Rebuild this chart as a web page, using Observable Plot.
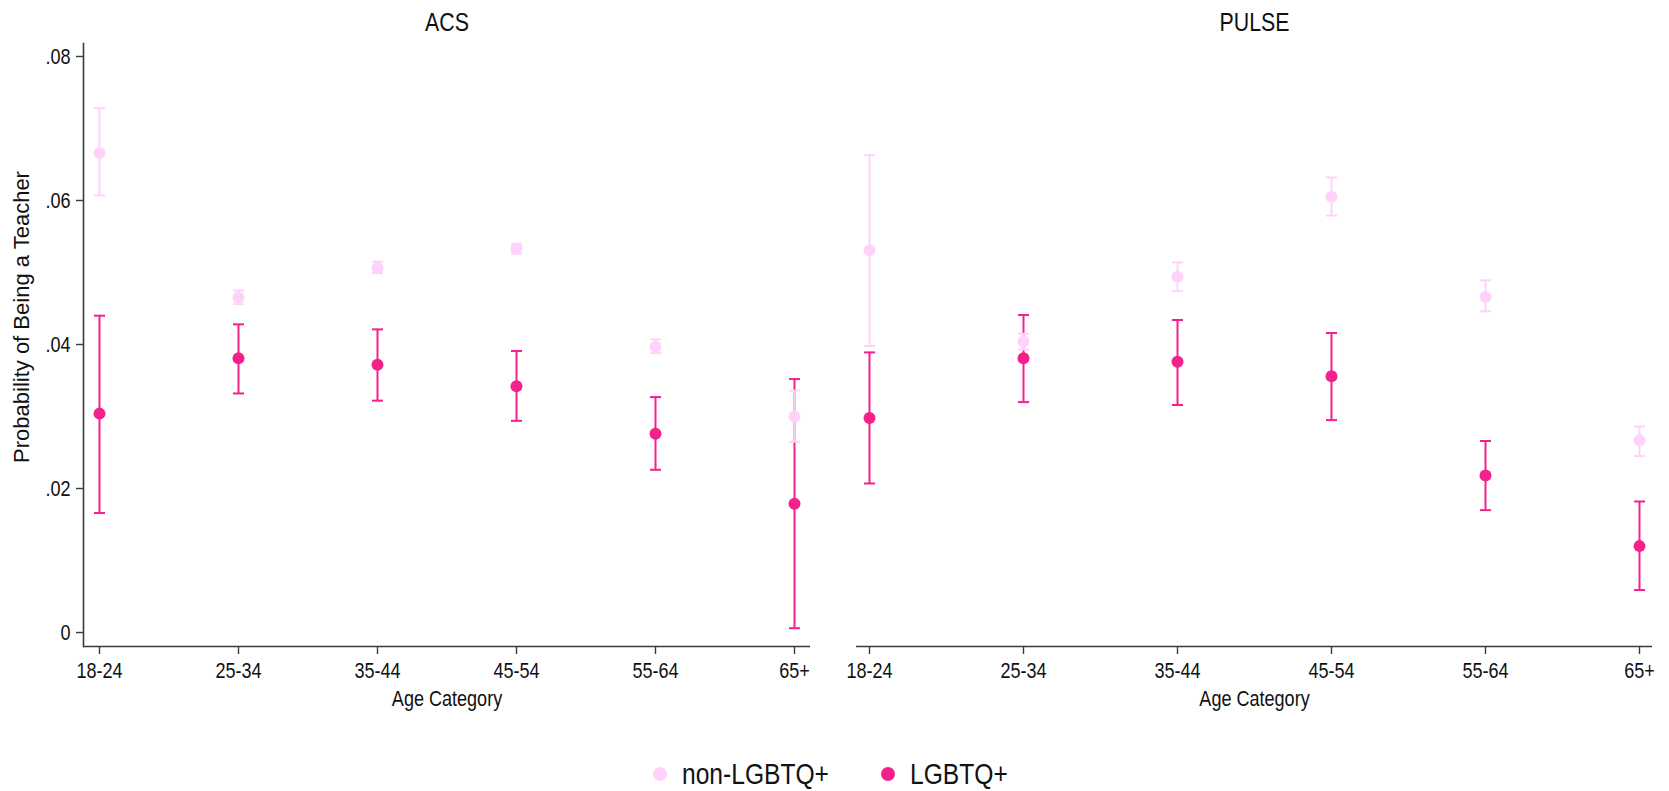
<!DOCTYPE html>
<html>
<head>
<meta charset="utf-8">
<script src="https://cdn.jsdelivr.net/npm/d3@7"></script>
<script src="https://cdn.jsdelivr.net/npm/@observablehq/plot@0.6"></script>
<style>
  html, body { margin: 0; padding: 0; background: #fff; }
  #root { position: relative; width: 1669px; height: 791px; overflow: hidden; font-family: "Liberation Sans", Arial, sans-serif; }
  .panel { position: absolute; top: 0; }
  #legend { position: absolute; top: 754px; left: 0; width: 1669px; height: 40px; }
  .lg-item { position: absolute; top: 0; height: 40px; display: flex; align-items: center; font-size: 30px; color: #111; white-space: nowrap; }
  .lg-dot { width: 14px; height: 14px; border-radius: 50%; margin-right: 15px; flex: none; }
  .lg-txt { display: inline-block; transform: scaleX(0.82); transform-origin: left center; }
  #ytitle { position: absolute; left: 22px; top: 317px; font-size: 22px; color: #111; white-space: nowrap;
            transform: translate(-50%, -50%) rotate(-90deg); }
</style>
</head>
<body>
<div id="root">
  <div id="left" class="panel" style="left:0px"></div>
  <div id="right" class="panel" style="left:840px"></div>
  <div id="ytitle"></div>
  <div id="legend"></div>
</div>
<script>
// ---- data ----
const ages = ["18-24", "25-34", "35-44", "45-54", "55-64", "65+"];
const groups = ["non-LGBTQ+", "LGBTQ+"];
const panels = ["ACS", "PULSE"];
const yTitle = "Probability of Being a Teacher";
const xTitle = "Age Category";
const yTicks = [0, 0.02, 0.04, 0.06, 0.08];

const acsNonEst = [0.0666, 0.0465, 0.0506, 0.0533, 0.0397, 0.0300];
const acsNonLo  = [0.0607, 0.0456, 0.0499, 0.0526, 0.0388, 0.0265];
const acsNonHi  = [0.0728, 0.0475, 0.0515, 0.0540, 0.0407, 0.0336];
const acsLgbEst = [0.0304, 0.0381, 0.0372, 0.0342, 0.0276, 0.0179];
const acsLgbLo  = [0.0166, 0.0332, 0.0322, 0.0294, 0.0226, 0.0006];
const acsLgbHi  = [0.0440, 0.0428, 0.0421, 0.0391, 0.0327, 0.0352];

const pulseNonEst = [0.0531, 0.0404, 0.0494, 0.0605, 0.0466, 0.0267];
const pulseNonLo  = [0.0398, 0.0393, 0.0474, 0.0579, 0.0446, 0.0245];
const pulseNonHi  = [0.0663, 0.0415, 0.0514, 0.0632, 0.0489, 0.0286];
const pulseLgbEst = [0.0298, 0.0381, 0.0376, 0.0356, 0.0218, 0.0120];
const pulseLgbLo  = [0.0207, 0.0320, 0.0316, 0.0295, 0.0170, 0.0059];
const pulseLgbHi  = [0.0389, 0.0441, 0.0434, 0.0416, 0.0266, 0.0182];

const colors = ["#ffd3f9", "#f2218c"];

function rows(est, lo, hi, group) {
  return ages.map((a, i) => ({age: a, est: est[i], lo: lo[i], hi: hi[i], group}));
}
const acsData = [...rows(acsLgbEst, acsLgbLo, acsLgbHi, groups[1]), ...rows(acsNonEst, acsNonLo, acsNonHi, groups[0])];
const pulseData = [...rows(pulseLgbEst, pulseLgbLo, pulseLgbHi, groups[1]), ...rows(pulseNonEst, pulseNonLo, pulseNonHi, groups[0])];

const FONT = getComputedStyle(document.getElementById("root")).fontFamily;
const AXIS = "#3a3a3a";
const yDomain = [-0.00194, 0.0818];
const H = 720, MT = 43, MB = 74;
const SQUEEZE = 0.82;

// horizontal cap symbol for error bars
const capSymbol = {
  draw(ctx, size) {
    const r = Math.sqrt(size / Math.PI);
    ctx.moveTo(-r, 0);
    ctx.lineTo(r, 0);
  }
};

function panel(data, title, opts) {
  const marks = [];
  for (const g of [groups[1], groups[0]]) {
    const d = data.filter(r => r.group === g);
    marks.push(
      Plot.ruleX(d, {x: "age", y1: "lo", y2: "hi", stroke: "group", strokeWidth: 2}),
      Plot.dot(d, {x: "age", y: "lo", stroke: "group", fill: "none", strokeWidth: 2, symbol: capSymbol, r: 5.5}),
      Plot.dot(d, {x: "age", y: "hi", stroke: "group", fill: "none", strokeWidth: 2, symbol: capSymbol, r: 5.5}),
      Plot.dot(d, {x: "age", y: "est", fill: "group", r: 6})
    );
  }
  const axes = [
    Plot.ruleY([yDomain[0]], {stroke: AXIS, strokeWidth: 1.6}),
    Plot.axisX({tickSize: 8, tickPadding: 8, fontSize: 22, label: null, stroke: AXIS, strokeWidth: 1.4}),
    Plot.text([xTitle], {frameAnchor: "bottom", lineAnchor: "middle", dy: 52, fontSize: 22, fill: "#111"}),
    Plot.text([title], {frameAnchor: "top", lineAnchor: "middle", dy: -21, fontSize: 26, fill: "#111"})
  ];
  if (opts.yAxis) {
    axes.push(
      Plot.frame({anchor: "left", stroke: AXIS, strokeWidth: 1.6}),
      Plot.axisY({ticks: yTicks, tickSize: 7, tickPadding: 6, fontSize: 22, label: null, stroke: AXIS, strokeWidth: 1.4,
        tickFormat: d => d === 0 ? "0" : d3.format(".2f")(d).replace(/^0/, "")})
    );
  } else {
    axes.push(Plot.axisY({ticks: [], label: null}));
  }
  return Plot.plot({
    width: opts.width, height: H,
    marginLeft: opts.ml, marginRight: opts.mr, marginTop: MT, marginBottom: MB,
    style: {fontFamily: FONT, fontSize: "22px", color: "#111", background: "transparent", overflow: "visible"},
    x: {type: "point", domain: ages, padding: opts.pad},
    y: {domain: yDomain, ticks: yTicks},
    color: {domain: groups, range: colors},
    marks: [...marks, ...axes]
  });
}

// narrow the horizontal text, as in the reference's condensed typeface
function squeeze(svg) {
  svg.querySelectorAll("text").forEach(t => {
    const len = t.getComputedTextLength();
    if (len > 0) {
      t.setAttribute("textLength", (len * SQUEEZE).toFixed(2));
      t.setAttribute("lengthAdjust", "spacingAndGlyphs");
    }
  });
}

const leftSvg = panel(acsData, panels[0], {width: 820, ml: 83, mr: 10, pad: 0.108, yAxis: true});
const rightSvg = panel(pulseData, panels[1], {width: 829, ml: 16, mr: 17, pad: 0.08, yAxis: false});
document.getElementById("left").append(leftSvg);
document.getElementById("right").append(rightSvg);
squeeze(leftSvg);
squeeze(rightSvg);

document.getElementById("ytitle").textContent = yTitle;

// legend
const lg = document.getElementById("legend");
const lgPos = [653, 881];
groups.forEach((g, i) => {
  const item = document.createElement("div");
  item.className = "lg-item";
  item.style.left = lgPos[i] + "px";
  const dot = document.createElement("span");
  dot.className = "lg-dot";
  dot.style.background = colors[i];
  const t = document.createElement("span");
  t.className = "lg-txt";
  t.textContent = g;
  item.append(dot, t);
  lg.append(item);
});
</script>
</body>
</html>
